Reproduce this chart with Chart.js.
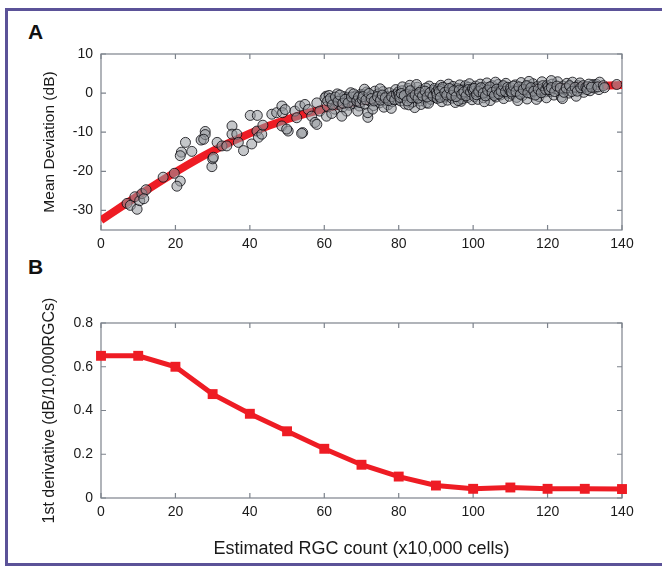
<!DOCTYPE html>
<html>
<head>
<meta charset="utf-8">
<script src="https://cdn.jsdelivr.net/npm/chart.js@4.4.1/dist/chart.umd.min.js"></script>
<style>
  body { margin: 0; background: #fff; width: 662px; height: 567px; overflow: hidden; position: relative; font-family: "Liberation Sans", Arial, sans-serif; }
  #frame { position: absolute; left: 5px; top: 8px; width: 700px; height: 552px; border: 3px solid #5b5298; }
  .tag { position: absolute; left: 28px; font-weight: bold; font-size: 21px; color: #111; }
  canvas { position: absolute; left: 0; }
</style>
</head>
<body>
<div id="frame"></div>
<div class="tag" style="top:20px">A</div>
<div class="tag" style="top:255px">B</div>
<canvas id="chartA" width="662" height="260" style="top:0"></canvas>
<canvas id="chartB" width="662" height="307" style="top:260px"></canvas>
<script>
// panel A: fitted curve (RGC count vs MD)
const fitCount = [0, 10, 20, 30, 40, 50, 60, 70, 80, 90, 100, 110, 120, 130, 140];
const fitMD = [-32.5, -26.2, -20.2, -14.8, -10.3, -6.7, -4.0, -2.1, -0.8, 0.0, 0.5, 0.9, 1.3, 1.7, 2.1];

// panel A: individual eyes [RGC count, MD]
const eyePoints = [
  [7.0,-28.2],[7.9,-28.7],[9.1,-26.5],[9.7,-29.7],[10.4,-27.5],[11.0,-25.7],[12.1,-24.7],[11.5,-27.0],
  [16.7,-21.5],[19.7,-20.5],[21.3,-22.5],[20.4,-23.8],[21.6,-15.1],[21.3,-16.0],[22.7,-12.6],[24.4,-14.9],
  [26.9,-12.0],[28.0,-9.8],[28.0,-10.6],[29.8,-18.8],[30.0,-16.8],[27.6,-11.8],[31.2,-12.6],[32.5,-13.5],
  [33.8,-13.5],[30.2,-16.4],[35.2,-8.4],[35.2,-10.5],[36.5,-10.5],[36.9,-12.6],[38.3,-14.7],[40.1,-5.7],
  [42.0,-5.7],[40.5,-13.0],[41.9,-9.7],[42.3,-11.3],[43.2,-10.5],[43.5,-8.2],[45.9,-5.4],[47.2,-5.0],
  [48.6,-3.3],[48.8,-5.0],[48.6,-8.4],[50.3,-9.7],[52.1,-4.6],[52.6,-6.3],[53.5,-3.3],[54.2,-10.1],
  [54.8,-2.9],[55.7,-4.2],[56.6,-5.9],[58.0,-2.5],[57.5,-7.5],[58.8,-4.6],[60.5,-0.8],[60.6,-5.9],
  [49.9,-9.2],[53.9,-10.3],[49.5,-4.2],[58.0,-8.0],
  [60.2,-1.2],[60.8,-3.4],[61.3,-0.6],[61.9,-2.3],[62.4,-1.8],[62.8,-4.1],[63.5,-0.2],[63.9,-2.9],
  [64.4,-1.5],[64.9,-3.6],[65.3,-0.9],[65.8,-2.2],[66.2,-1.1],[66.7,-3.1],[67.1,0.1],[67.6,-1.9],
  [68.0,-2.7],[68.5,-0.7],[68.9,-1.4],[69.4,-3.3],[69.8,-0.3],[62.0,-5.2],[66.0,-4.6],[64.7,-5.9],
  [69.0,-4.6],[71.7,-6.2],[71.7,-5.0],[84.3,-3.7],[87.4,-2.5],[96.8,-2.1],
  [60.9,-2.0],[61.6,-1.4],[62.2,-3.0],[63.0,-1.0],[63.7,-2.1],[64.2,-0.5],[65.0,-2.6],[65.6,-1.6],
  [66.4,-2.5],[67.3,-1.0],[67.9,-0.2],[68.7,-2.0],[69.2,-1.0],[69.6,-2.4],
  [70.2,-1.6],[70.6,-0.4],[71.0,-2.8],[71.4,0.3],[71.9,-1.1],[72.3,-2.1],[72.8,-0.6],[73.2,-3.2],
  [73.6,0.5],[74.1,-1.7],[74.5,-0.2],[74.9,-2.5],[75.3,-1.0],[75.8,0.4],[76.2,-1.9],[76.6,-0.8],
  [77.1,-3.0],[77.5,0.1],[77.9,-1.3],[78.3,-2.2],[78.7,-0.5],[79.2,0.9],[79.6,-1.6],[73.0,-4.1],
  [76.0,-3.6],[78.0,-3.9],[70.8,1.0],[75.0,1.1],
  [70.4,-0.9],[71.2,-1.7],[72.0,-0.1],[72.6,-1.4],[73.4,-2.0],[74.3,-0.9],[75.1,-1.8],[75.6,-0.5],
  [76.4,-1.2],[77.3,-1.9],[78.1,-0.9],[78.9,-1.7],[79.4,-0.3],[79.9,0.3],
  [80.1,-0.4],[80.5,-2.0],[80.9,0.6],[81.3,-1.2],[81.7,-2.8],[82.1,-0.1],[82.5,1.2],[82.9,-1.5],
  [83.3,-0.7],[83.7,-2.3],[84.1,0.4],[84.6,-1.0],[85.0,1.5],[85.4,-0.3],[85.8,-2.0],[86.2,0.8],
  [86.6,-1.3],[87.0,-0.5],[87.8,0.2],[88.2,1.8],[88.6,-1.6],[89.0,-0.2],[89.4,0.7],[89.8,-1.1],
  [81.0,1.6],[83.0,2.0],[86.0,-2.9],[88.0,-2.6],[84.8,2.2],[87.3,1.3],[82.7,-3.0],
  [80.3,-1.1],[80.7,-0.1],[81.5,-0.6],[82.3,-2.0],[83.1,0.6],[83.5,-1.2],[84.4,-0.5],[85.2,-1.3],
  [85.6,0.2],[86.4,-0.7],[87.1,0.5],[87.6,-1.0],[88.4,0.1],[89.2,-0.8],[89.6,1.2],
  [90.1,0.3],[90.4,-1.4],[90.7,1.1],[91.0,-0.6],[91.3,2.0],[91.6,-2.2],[91.9,0.0],[92.2,1.4],
  [92.5,-1.0],[92.8,0.6],[93.1,-1.8],[93.4,2.3],[93.7,-0.3],[94.0,0.9],[94.3,-1.3],[94.6,1.7],
  [94.9,-0.1],[95.2,-2.4],[95.5,0.5],[95.8,1.2],[96.1,-0.8],[96.4,2.1],[96.7,0.2],[97.0,-1.5],
  [97.3,1.0],[97.6,-0.4],[97.9,1.9],[98.2,0.4],[98.5,-1.1],[98.8,1.5],[99.1,-0.2],[99.4,0.8],
  [99.7,-1.7],[93.0,0.1],[95.0,0.3],[97.0,0.6],[99.0,2.4],[91.5,0.9],[96.0,-1.9],
  [90.3,-0.4],[90.9,0.5],[91.2,-1.1],[91.8,1.5],[92.4,0.2],[92.9,-0.5],[93.6,1.2],[94.2,-0.6],
  [94.8,0.6],[95.4,-0.9],[96.3,0.8],[96.9,-0.3],[97.5,0.3],[98.1,-0.7],[98.6,0.9],[99.3,0.3],[99.8,1.1],
  [100.1,0.5],[100.4,-0.9],[100.7,1.8],[101.0,0.1],[101.3,-1.6],[101.6,1.1],[101.9,2.3],[102.2,-0.3],
  [102.5,0.8],[102.8,-1.2],[103.1,1.5],[103.4,0.3],[103.7,2.6],[104.0,-0.6],[104.3,1.0],[104.6,-1.9],
  [104.9,0.6],[105.2,1.9],[105.5,-0.1],[105.8,1.3],[106.1,-1.0],[106.4,0.4],[106.7,2.2],[107.0,0.9],
  [107.3,-0.5],[107.6,1.6],[107.9,0.2],[108.2,-1.4],[108.5,1.2],[108.8,2.5],[109.1,0.0],[109.4,0.9],
  [109.7,-0.8],[103.0,-2.2],[106.0,2.8],
  [100.3,1.2],[100.9,-0.4],[101.5,0.4],[102.1,1.4],[102.7,0.0],[103.3,-0.7],[103.9,0.7],[104.5,1.6],
  [105.1,0.2],[105.7,-0.6],[106.3,1.0],[106.9,-0.2],[107.5,0.5],[108.1,1.9],[108.7,0.4],[109.3,1.5],[109.9,0.6],
  [110.1,1.4],[110.5,-0.3],[110.9,0.7],[111.3,2.1],[111.7,-1.1],[112.1,1.0],[112.5,0.2],[112.9,2.7],
  [113.3,-0.6],[113.7,1.5],[114.1,0.5],[114.5,-1.5],[114.9,1.9],[115.3,0.9],[115.7,-0.2],[116.1,2.4],
  [116.5,1.2],[116.9,0.0],[117.3,1.7],[117.7,-0.9],[118.1,0.8],[118.5,2.9],[118.9,1.3],[119.3,0.3],
  [119.7,-1.2],[112.0,-1.9],[115.0,3.0],[117.0,-1.6],
  [110.3,0.3],[110.8,1.8],[111.5,0.4],[112.3,1.6],[112.7,-0.3],[113.5,0.9],[114.3,1.9],[114.7,0.1],
  [115.5,1.4],[116.3,0.5],[116.7,-0.5],[117.5,1.0],[118.3,0.1],[118.7,1.9],[119.5,0.9],[119.9,2.0],
  [120.2,1.6],[120.7,0.4],[121.2,2.3],[121.7,-0.5],[122.2,1.1],[122.7,2.9],[123.2,0.6],[123.7,-1.0],
  [124.2,1.8],[124.7,0.9],[125.2,2.5],[125.7,0.0],[126.2,1.4],[126.7,2.8],[127.2,0.7],[127.7,-0.8],
  [128.2,1.9],[128.7,2.6],[129.2,1.0],[129.7,0.2],[121.0,3.2],[124.0,-1.4],
  [120.4,0.9],[121.0,1.4],[121.9,0.4],[122.5,1.8],[123.4,1.3],[124.4,0.2],[125.0,1.3],[125.9,1.9],
  [126.5,0.4],[127.4,1.5],[128.0,0.5],[128.9,1.4],[129.5,1.9],
  [130.3,1.5],[130.8,1.7],[131.4,0.6],[132.0,2.0],[132.3,2.2],[132.6,1.3],[133.2,2.2],[133.8,0.9],
  [134.0,2.8],[130.6,0.9],[131.1,2.3],[131.8,1.5],[133.5,1.6],[135.0,1.9],[135.3,1.4],[138.6,2.2]
];

// panel B: 1st derivative of the fit
const derivCount = [0, 10, 20, 30, 40, 50, 60, 70, 80, 90, 100, 110, 120, 130, 140];
const derivValue = [0.65, 0.65, 0.60, 0.475, 0.385, 0.305, 0.225, 0.152, 0.098, 0.057, 0.042, 0.048, 0.042, 0.042, 0.041];

const RED = "#ee1c24";
const AXIS = "#7d838c";
const FONT = "'Liberation Sans', Arial, sans-serif";

// matlab style box with inward ticks
const boxAxes = {
  id: "boxAxes",
  beforeDatasetsDraw(chart) {
    const { ctx, chartArea: a, scales } = chart;
    ctx.save();
    ctx.strokeStyle = AXIS;
    ctx.lineWidth = 1.2;
    ctx.strokeRect(a.left, a.top, a.right - a.left, a.bottom - a.top);
    ctx.beginPath();
    scales.x.ticks.forEach((t) => {
      const px = scales.x.getPixelForValue(t.value);
      ctx.moveTo(px, a.bottom); ctx.lineTo(px, a.bottom - 5);
      ctx.moveTo(px, a.top); ctx.lineTo(px, a.top + 5);
    });
    scales.y.ticks.forEach((t) => {
      const py = scales.y.getPixelForValue(t.value);
      ctx.moveTo(a.left, py); ctx.lineTo(a.left + 5, py);
      ctx.moveTo(a.right, py); ctx.lineTo(a.right - 5, py);
    });
    ctx.stroke();
    ctx.restore();
  },
};

function axisX(height, title) {
  return {
    type: "linear", min: 0, max: 140,
    grid: { display: false, drawTicks: false }, border: { display: false },
    ticks: { stepSize: 20, color: "#1a1a1a", padding: 6, font: { family: FONT, size: 14 } },
    title: title ? { display: true, text: title, color: "#1a1a1a", font: { family: FONT, size: 18 }, padding: { top: 0, bottom: 7 } } : { display: false },
    afterFit(scale) { scale.height = height; },
  };
}

function axisY(min, max, step, title, size) {
  return {
    min, max,
    grid: { display: false, drawTicks: false }, border: { display: false },
    ticks: { stepSize: step, includeBounds: false, color: "#1a1a1a", padding: 8, font: { family: FONT, size: 14 } },
    title: { display: true, text: title, color: "#1a1a1a", font: { family: FONT, size }, padding: { top: 50 - size * 0.6, bottom: 0 } },
    afterFit(scale) { scale.width = 101; },
  };
}

new Chart(document.getElementById("chartA"), {
  data: {
    datasets: [
      {
        type: "scatter",
        data: eyePoints.map((p) => ({ x: p[0], y: p[1] })),
        pointRadius: 5,
        pointBackgroundColor: "rgba(150,153,158,0.55)",
        pointBorderColor: "rgba(10,10,15,0.8)",
        pointBorderWidth: 1,
      },
      {
        type: "line",
        data: fitCount.map((x, i) => ({ x, y: fitMD[i] })),
        borderColor: RED,
        borderWidth: 8,
        pointRadius: 0,
        cubicInterpolationMode: "monotone",
      },
    ],
  },
  options: {
    responsive: false,
    animation: false,
    layout: { padding: { left: 0, right: 40, top: 54, bottom: 0 } },
    plugins: { legend: { display: false }, tooltip: { enabled: false } },
    scales: { x: axisX(30), y: axisY(-35, 10, 10, "Mean Deviation (dB)", 15.5) },
  },
  plugins: [boxAxes],
});

new Chart(document.getElementById("chartB"), {
  type: "line",
  data: {
    datasets: [
      {
        data: derivCount.map((x, i) => ({ x, y: derivValue[i] })),
        borderColor: RED,
        backgroundColor: RED,
        borderWidth: 5,
        pointStyle: "rect",
        pointRadius: 7,
        pointBorderWidth: 0,
        clip: false,
      },
    ],
  },
  options: {
    responsive: false,
    animation: false,
    layout: { padding: { left: 0, right: 40, top: 63, bottom: 0 } },
    plugins: { legend: { display: false }, tooltip: { enabled: false } },
    scales: {
      x: axisX(69, "Estimated RGC count (x10,000 cells)"),
      y: axisY(0, 0.8, 0.2, "1st derivative (dB/10,000RGCs)", 16),
    },
  },
  plugins: [boxAxes],
});
</script>
</body>
</html>
